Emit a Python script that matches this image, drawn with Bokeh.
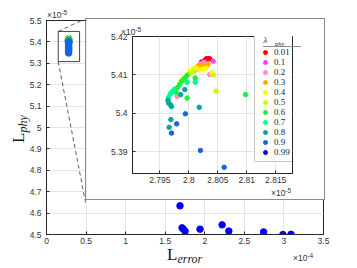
import numpy as np
from bokeh.plotting import figure
from bokeh.models import (FixedTicker, CustomJSTickFormatter, Legend, LegendItem, Range1d, Div)
from bokeh.layouts import column
from bokeh.embed import file_html
from bokeh.resources import INLINE

# ---------------- data ----------------
# cluster: L_error in units of 1e-5, L_phy in units of 1e-5
LAMBDA_LABELS = ["0.01", "0.1", "0.2", "0.3", "0.4", "0.5", "0.6", "0.7", "0.8", "0.9", "0.99"]
COLORS = ["#ff0000", "#ff3cff", "#ff8ccf", "#ffab00", "#ffff00", "#c8ff00",
          "#1fef3a", "#00ff8c", "#00a89e", "#1663e6", "#0000ff"]

err_001 = [2.8030, 2.8033, 2.8036, 2.8022, 2.8026, 2.8028]
phy_001 = [5.4142, 5.4142, 5.4142, 5.4134, 5.4130, 5.4138]
err_01 = [2.8042, 2.8015, 2.8021, 2.8028, 2.8024, 2.8018]
phy_01 = [5.4136, 5.4120, 5.4130, 5.4133, 5.4128, 5.4125]
err_02 = [2.7980, 2.8036, 2.8012, 2.8019, 2.8025, 2.8031, 2.8022]
phy_02 = [5.4044, 5.4101, 5.4113, 5.4127, 5.4132, 5.4125, 5.4120]
err_03 = [2.8010, 2.8016, 2.8022, 2.8027, 2.8033, 2.8019]
phy_03 = [5.4117, 5.4123, 5.4125, 5.4122, 5.4128, 5.4118]
err_04 = [2.7998, 2.8003, 2.8007, 2.8013, 2.8040, 2.8020, 2.8030, 2.8025]
phy_04 = [5.4101, 5.4110, 5.4115, 5.4118, 5.4106, 5.4113, 5.4118, 5.4115]
err_05 = [2.7990, 2.7995, 2.8000, 2.8047, 2.8043, 2.8008, 2.7986]
phy_05 = [5.4090, 5.4095, 5.4104, 5.4058, 5.4100, 5.4108, 5.4083]
err_06 = [2.7978, 2.7997, 2.7980, 2.7984, 2.7997, 2.8011, 2.8098, 2.7988, 2.7993]
phy_06 = [5.4055, 5.4040, 5.4067, 5.4075, 5.4099, 5.4092, 5.4049, 5.4084, 5.4092]
err_07 = [2.7968, 2.7965, 2.7972, 2.7975, 2.7997, 2.8011]
phy_07 = [5.4051, 5.4042, 5.4057, 5.4063, 5.4081, 5.4081]
err_08 = [2.7964, 2.7965, 2.7968, 2.7970, 2.7986, 2.7993, 2.8018, 2.7969, 2.7966]
phy_08 = [5.4034, 5.4027, 5.4023, 5.4018, 5.4049, 5.4062, 5.4016, 5.3984, 5.3964]
err_09 = [2.7994, 2.7979, 2.7970, 2.8020, 2.8061, 2.8010, 2.7975, 2.8030, 2.7990, 2.8050, 2.8000]
phy_09 = [5.3999, 5.3973, 5.3949, 5.3904, 5.3860, 5.3750, 5.3680, 5.3620, 5.3550, 5.3720, 5.3480]
# lambda = 0.99: L_error in units of 1e-4, L_phy in units of 1e-5
err_099 = [1.687, 1.713, 1.730, 1.751, 1.940, 2.219, 2.304, 2.743, 2.987, 3.089]
phy_099 = [4.634, 4.531, 4.525, 4.515, 4.525, 4.545, 4.516, 4.512, 4.500, 4.501]

ERR_GROUPS = [err_001, err_01, err_02, err_03, err_04, err_05, err_06, err_07, err_08, err_09]
PHY_GROUPS = [phy_001, phy_01, phy_02, phy_03, phy_04, phy_05, phy_06, phy_07, phy_08, phy_09]

MAIN_XTICKS = [0, 0.5, 1, 1.5, 2, 2.5, 3, 3.5]                          # x 1e-4
MAIN_YTICKS = [4.5, 4.6, 4.7, 4.8, 4.9, 5.0, 5.1, 5.2, 5.3, 5.4, 5.5]   # x 1e-5
INSET_XTICKS = [2.795, 2.8, 2.805, 2.81, 2.815]                         # x 1e-5
INSET_YTICKS = [5.39, 5.4, 5.41, 5.42]                                  # x 1e-5
MAIN_XLIM = (0, 3.5)              # x 1e-4
MAIN_YLIM = (4.5, 5.5)            # x 1e-5
INSET_XLIM = (2.79027, 2.8179)    # x 1e-5
INSET_YLIM = (5.3844, 5.42)       # x 1e-5
ZOOM_BOX_X = (0.148, 0.418)       # x 1e-4
ZOOM_BOX_Y = (5.308, 5.449)       # x 1e-5
INSET_CORNER_X = 0.4937           # x 1e-4
INSET_CORNER_Y = (5.5093, 4.6495) # x 1e-5

E4, E5 = 1e-4, 1e-5
TICK_FONT = "Liberation Sans"
SERIF = "Liberation Serif"
AX_COL = "#262626"
GRID_COL = "#e4e4e4"
W, H = 357, 268


def style_axes(fig, xticks, yticks, xscale, yscale):
    fig.xaxis[0].ticker = FixedTicker(ticks=[t * xscale for t in xticks])
    fig.yaxis[0].ticker = FixedTicker(ticks=[t * yscale for t in yticks])
    fig.xaxis[0].formatter = CustomJSTickFormatter(
        code="return String(Math.round(tick*%g*10000)/10000)" % (1 / xscale))
    fig.yaxis[0].formatter = CustomJSTickFormatter(
        code="return String(Math.round(tick*%g*10000)/10000)" % (1 / yscale))
    for ax in (fig.xaxis[0], fig.yaxis[0]):
        ax.major_tick_in = 3
        ax.major_tick_out = 0
        ax.minor_tick_line_color = None
        ax.axis_line_color = AX_COL
        ax.major_tick_line_color = AX_COL
        ax.major_label_text_font = TICK_FONT
        ax.major_label_text_font_size = "8.5px"
        ax.major_label_text_color = "#333333"
    fig.xaxis[0].major_label_standoff = 3
    fig.yaxis[0].major_label_standoff = 5
    fig.grid.grid_line_color = GRID_COL
    fig.outline_line_color = AX_COL
    fig.background_fill_color = "white"
    fig.border_fill_color = "white"


# ---------------- main figure ----------------
p = figure(width=W, height=H, output_backend="svg", toolbar_location=None,
           x_range=Range1d(MAIN_XLIM[0] * E4, MAIN_XLIM[1] * E4),
           y_range=Range1d(MAIN_YLIM[0] * E5, MAIN_YLIM[1] * E5),
           min_border_left=46, min_border_right=34, min_border_top=20, min_border_bottom=34)
style_axes(p, MAIN_XTICKS, MAIN_YTICKS, E4, E5)

for errs, phys, col in zip(ERR_GROUPS, PHY_GROUPS, COLORS):
    p.scatter([e * E5 for e in errs], [v * E5 for v in phys], size=6.5,
              fill_color=col, line_color=col)
p.scatter([e * E4 for e in err_099], [v * E5 for v in phy_099], size=6.5,
          fill_color=COLORS[-1], line_color=COLORS[-1])

p.quad(left=[ZOOM_BOX_X[0] * E4], right=[ZOOM_BOX_X[1] * E4],
       bottom=[ZOOM_BOX_Y[0] * E5], top=[ZOOM_BOX_Y[1] * E5],
       fill_color=None, line_color="#444444", line_width=1)
p.line([ZOOM_BOX_X[0] * E4, INSET_CORNER_X * E4], [ZOOM_BOX_Y[1] * E5, INSET_CORNER_Y[0] * E5],
       line_color="#333333", line_dash="4 3", line_width=0.8)
p.line([ZOOM_BOX_X[0] * E4, INSET_CORNER_X * E4], [ZOOM_BOX_Y[0] * E5, INSET_CORNER_Y[1] * E5],
       line_color="#333333", line_dash="4 3", line_width=0.8)

# ---------------- inset figure ----------------
q = figure(width=240, height=182, output_backend="svg", toolbar_location=None,
           x_range=Range1d(INSET_XLIM[0] * E5, INSET_XLIM[1] * E5),
           y_range=Range1d(INSET_YLIM[0] * E5, INSET_YLIM[1] * E5),
           min_border_left=34, min_border_right=25, min_border_top=17, min_border_bottom=28,
           styles={"border": "1px solid #8c8c8c"}, margin=(18 - H, 0, 0, 85))
style_axes(q, INSET_XTICKS, INSET_YTICKS, E5, E5)

items = []
for lab, errs, phys, col in zip(LAMBDA_LABELS[:-1], ERR_GROUPS, PHY_GROUPS, COLORS):
    r = q.scatter([e * E5 for e in errs], [v * E5 for v in phys], size=4.5,
                  fill_color=col, line_color=col)
    items.append(LegendItem(label=lab, renderers=[r]))
r = q.scatter([e * E4 for e in err_099], [v * E5 for v in phy_099], size=4.5,
              fill_color=COLORS[-1], line_color=COLORS[-1])
items.append(LegendItem(label=LAMBDA_LABELS[-1], renderers=[r]))

# legend placed flush with the frame top; the part beyond the frame's right edge
# is clipped, so the frame acts as its right border
legend = Legend(items=items, location=(122, 11), margin=0, padding=4, spacing=0,
                glyph_width=12, glyph_height=10, label_height=10, label_standoff=3,
                label_width=10,
                label_text_font=SERIF, label_text_font_size="9px",
                label_text_color="#1a1a1a",
                title="\u00a0\u00a0λ", title_text_font=SERIF, title_text_font_style="italic",
                title_text_font_size="9px", title_standoff=2,
                border_line_color="#8c8c8c", border_line_width=1,
                background_fill_color="white", background_fill_alpha=1)
q.add_layout(legend)

# ---------------- text overlays (HTML, absolutely positioned on the page) ----------------
children = [p, q]


def place(html, left, top, width, height, extra=None):
    st = {"position": "absolute", "left": "%gpx" % left, "top": "%gpx" % top, "z-index": "10",
          "font-size": "0px", "line-height": "0px"}
    if extra:
        st.update(extra)
    children.append(Div(text=html, width=width, height=height, styles=st, margin=0))


def expo(power, align="left", color="#333333"):
    return ("<div style=\"font-family:'Liberation Sans';font-size:8.5px;line-height:10px;"
            "white-space:nowrap;color:%s;text-align:%s\">&times;10<span style=\"position:relative;"
            "top:-3px;font-size:6.5px\">-%d</span></div>" % (color, align, power))


SERIF_CSS = "font-family:'Liberation Serif';color:#1a1a1a;white-space:nowrap;"
# y axis label  L_phy (rotated)
place("<div style=\"%sfont-size:17px;line-height:20px;text-align:center\">L<span style=\""
      "font-size:12px;font-style:italic;position:relative;top:3px\">phy</span></div>" % SERIF_CSS,
      0, 114, 38, 20, extra={"transform": "rotate(-90deg)"})
place(expo(5), 47, 10, 30, 10)
place("<div style=\"%sfont-size:17px;line-height:17px\">L<span style=\"font-size:12px;"
      "font-style:italic;position:relative;top:3px\">error</span></div>" % SERIF_CSS,
      167, 246, 45, 21)
place(expo(4, "right"), 293, 253, 30, 10)
# inset texts
place(expo(5), 121, 27, 30, 10)
place("<div style=\"%sfont-size:6.5px;line-height:8px;font-style:italic\">phy</div>" % SERIF_CSS,
      275, 40, 20, 8)
place("<div style=\"background:#8c8c8c;width:38px;height:1px\"></div>", 263, 46, 38, 1)
place(expo(5, "right"), 271, 188, 30, 10)

layout = column(children, spacing=0)
open("out.html", "w").write(file_html(layout, INLINE))
